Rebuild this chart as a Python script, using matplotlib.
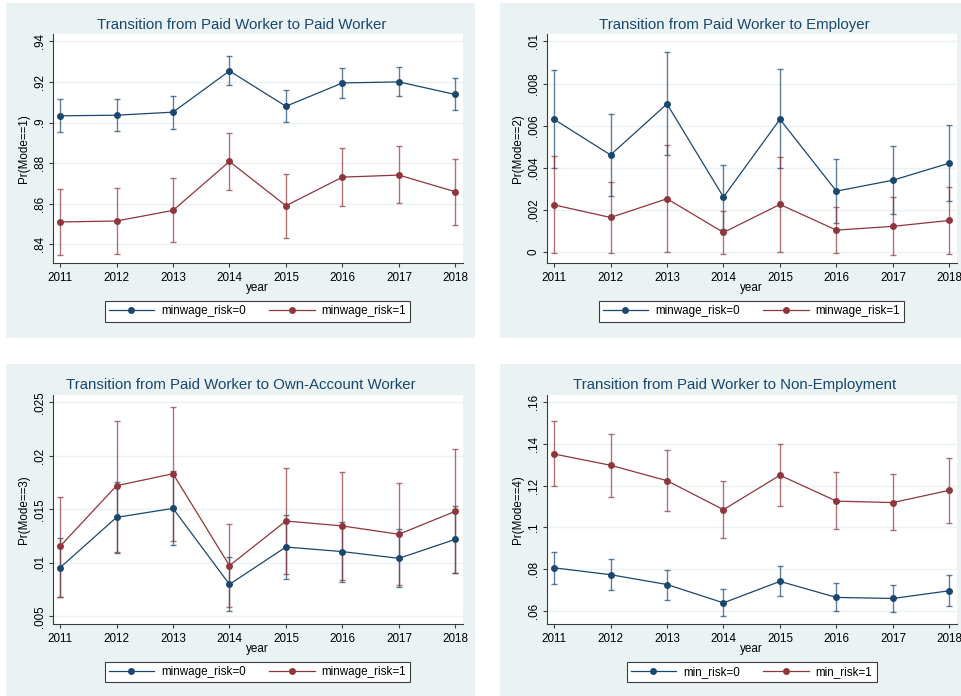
import matplotlib
matplotlib.use("Agg")
import matplotlib.pyplot as plt
from matplotlib.patches import Rectangle
from matplotlib.lines import Line2D

plt.rcParams['font.family'] = ['Liberation Sans', 'DejaVu Sans']

W, H = 961, 696

years = [2011, 2012, 2013, 2014, 2015, 2016, 2017, 2018]

# Paid Worker -> Paid Worker
paid_est_0 = [.9033, .9036, .9051, .9254, .9080, .9195, .9200, .9138]
paid_lo_0 = [.8951, .8956, .8970, .9184, .9002, .9123, .9130, .9061]
paid_hi_0 = [.9116, .9118, .9133, .9326, .9159, .9269, .9272, .9218]
paid_est_1 = [.8510, .8515, .8567, .8808, .8590, .8731, .8741, .8659]
paid_lo_1 = [.8346, .8352, .8410, .8669, .8431, .8587, .8603, .8495]
paid_hi_1 = [.8672, .8677, .8725, .8948, .8748, .8874, .8884, .8821]

# Paid Worker -> Employer
empl_est_0 = [.00630, .00461, .00703, .00261, .00630, .00289, .00341, .00422]
empl_lo_0 = [.00398, .00265, .00460, .00111, .00397, .00136, .00182, .00240]
empl_hi_0 = [.00864, .00657, .00949, .00411, .00867, .00441, .00502, .00602]
empl_est_1 = [.00224, .00164, .00253, .00093, .00226, .00104, .00122, .00150]
empl_lo_1 = [-.00005, -.00005, .00000, -.00008, .00000, -.00006, -.00016, -.00009]
empl_hi_1 = [.00458, .00333, .00506, .00197, .00450, .00213, .00261, .00311]

# Paid Worker -> Own-Account Worker
own_est_0 = [.00955, .01425, .01509, .00799, .01148, .01105, .01042, .01220]
own_lo_0 = [.00681, .01095, .01167, .00547, .00846, .00824, .00773, .00902]
own_hi_0 = [.01235, .01759, .01855, .01051, .01447, .01385, .01314, .01534]
own_est_1 = [.01154, .01721, .01833, .00974, .01391, .01345, .01267, .01482]
own_lo_1 = [.00685, .01100, .01204, .00584, .00891, .00841, .00794, .00902]
own_hi_1 = [.01618, .02329, .02460, .01360, .01890, .01850, .01744, .02067]

# Paid Worker -> Non-Employment
nonemp_est_0 = [.0806, .0773, .0726, .0638, .0741, .0664, .0659, .0696]
nonemp_lo_0 = [.0730, .0699, .0654, .0573, .0670, .0598, .0595, .0624]
nonemp_hi_0 = [.0883, .0848, .0797, .0706, .0813, .0731, .0726, .0770]
nonemp_est_1 = [.1352, .1298, .1224, .1085, .1250, .1126, .1119, .1178]
nonemp_lo_1 = [.1197, .1146, .1078, .0950, .1101, .0990, .0987, .1022]
nonemp_hi_1 = [.1509, .1450, .1370, .1221, .1400, .1264, .1254, .1333]

paid_ticks = [.84, .86, .88, .90, .92, .94]
paid_ticklabels = ['.84', '.86', '.88', '.9', '.92', '.94']
empl_ticks = [0, .002, .004, .006, .008, .010]
empl_ticklabels = ['0', '.002', '.004', '.006', '.008', '.01']
own_ticks = [.005, .010, .015, .020, .025]
own_ticklabels = ['.005', '.01', '.015', '.02', '.025']
nonemp_ticks = [.06, .08, .10, .12, .14, .16]
nonemp_ticklabels = ['.06', '.08', '.1', '.12', '.14', '.16']

NAVY = '#1a476f'
MAROON = '#90353b'
BG = '#eaf2f3'
AXC = '#3c3c3c'

fig = plt.figure(figsize=(W / 100, H / 100), dpi=100)
fig.patch.set_facecolor('white')


def fx(px):
    return px / W


def fy(py):
    return 1 - py / H


# graph regions (light bluish gray), kept behind the axes
for x0, y0, x1, y1 in [(6, 3, 475, 338), (500, 3, 961, 338),
                       (6, 364, 475, 696), (500, 364, 961, 696)]:
    fig.patches.append(Rectangle((fx(x0), fy(y1)), fx(x1 - x0), (y1 - y0) / H,
                                 transform=fig.transFigure, facecolor=BG,
                                 edgecolor='none', zorder=-10))


def panel(left, top, width, height, ylim, ticks, ticklabels, ylabel,
          est0, lo0, hi0, est1, lo1, hi1, title, title_x, title_y,
          labels, leg_x, leg_y):
    ax = fig.add_axes([fx(left), fy(top + height), fx(width), height / H])
    ax.set_zorder(1)
    ax.set_facecolor('white')
    for s in ['top', 'right']:
        ax.spines[s].set_visible(False)
    for s in ['left', 'bottom']:
        ax.spines[s].set_color(AXC)
        ax.spines[s].set_linewidth(0.8)

    # confidence intervals first, then the connected point estimates
    for est, lo, hi, c in [(est0, lo0, hi0, NAVY), (est1, lo1, hi1, MAROON)]:
        ax.errorbar(years, est, yerr=[[e - l for e, l in zip(est, lo)],
                                      [h - e for e, h in zip(est, hi)]],
                    fmt='none', ecolor=c, alpha=0.7, elinewidth=1.0,
                    capsize=2.3, capthick=1.0, zorder=2)
    for est, c in [(est0, NAVY), (est1, MAROON)]:
        ax.plot(years, est, color=c, lw=0.9, marker='o', markersize=5,
                markeredgewidth=0, zorder=3)

    ax.set_xlim(2010.87, 2018.13)
    ax.set_ylim(*ylim)
    ax.set_xticks(years)
    ax.set_yticks(ticks)
    ax.set_yticklabels(ticklabels, rotation=90, va='center')
    ax.yaxis.grid(True, color=BG, lw=1.0)
    ax.set_axisbelow(True)
    ax.tick_params(axis='both', length=3, width=0.8, color=AXC,
                   labelsize=8.4, labelcolor='black')
    ax.tick_params(axis='x', pad=3.5)
    ax.tick_params(axis='y', pad=2)
    ax.set_xlabel('year', fontsize=8.4, labelpad=-1.5)
    ax.set_ylabel(ylabel, fontsize=8.4, labelpad=3)

    fig.text(fx(title_x), fy(title_y), title, ha='center', va='center',
             fontsize=10.8, color=NAVY)

    handles = [Line2D([], [], color=NAVY, lw=0.9, marker='o', markersize=5,
                      markeredgewidth=0),
               Line2D([], [], color=MAROON, lw=0.9, marker='o', markersize=5,
                      markeredgewidth=0)]
    leg = ax.legend(handles, labels, loc='center', ncol=2,
                    bbox_to_anchor=(fx(leg_x), fy(leg_y)),
                    bbox_transform=fig.transFigure, fontsize=8.4,
                    frameon=True, fancybox=False, framealpha=1,
                    edgecolor=AXC, handlelength=3.9, handletextpad=0.6,
                    columnspacing=2.0, borderpad=0.35)
    leg.get_frame().set_linewidth(0.8)
    return ax


panel(52.7, 34, 410, 229, (.8308, .9436), paid_ticks, paid_ticklabels,
      'Pr(Mode==1)', paid_est_0, paid_lo_0, paid_hi_0,
      paid_est_1, paid_lo_1, paid_hi_1,
      'Transition from Paid Worker to Paid Worker', 241.5, 25,
      ['minwage_risk=0', 'minwage_risk=1'], 257.5, 311.5)

panel(546.7, 34, 410, 229, (-.00052, .01035), empl_ticks, empl_ticklabels,
      'Pr(Mode==2)', empl_est_0, empl_lo_0, empl_hi_0,
      empl_est_1, empl_lo_1, empl_hi_1,
      'Transition from Paid Worker to Employer', 734.5, 25,
      ['minwage_risk=0', 'minwage_risk=1'], 751.5, 311.5)

panel(52.7, 395, 410, 228.7, (.00431, .02569), own_ticks, own_ticklabels,
      'Pr(Mode==3)', own_est_0, own_lo_0, own_hi_0,
      own_est_1, own_lo_1, own_hi_1,
      'Transition from Paid Worker to Own-Account Worker', 240.5, 385,
      ['minwage_risk=0', 'minwage_risk=1'], 257.5, 672.2)

panel(546.7, 395, 410, 228.7, (.0538, .1635), nonemp_ticks, nonemp_ticklabels,
      'Pr(Mode==4)', nonemp_est_0, nonemp_lo_0, nonemp_hi_0,
      nonemp_est_1, nonemp_lo_1, nonemp_hi_1,
      'Transition from Paid Worker to Non-Employment', 734.5, 385,
      ['min_risk=0', 'min_risk=1'], 751.5, 672.2)

fig.savefig('out.png', dpi=100, facecolor='white')
